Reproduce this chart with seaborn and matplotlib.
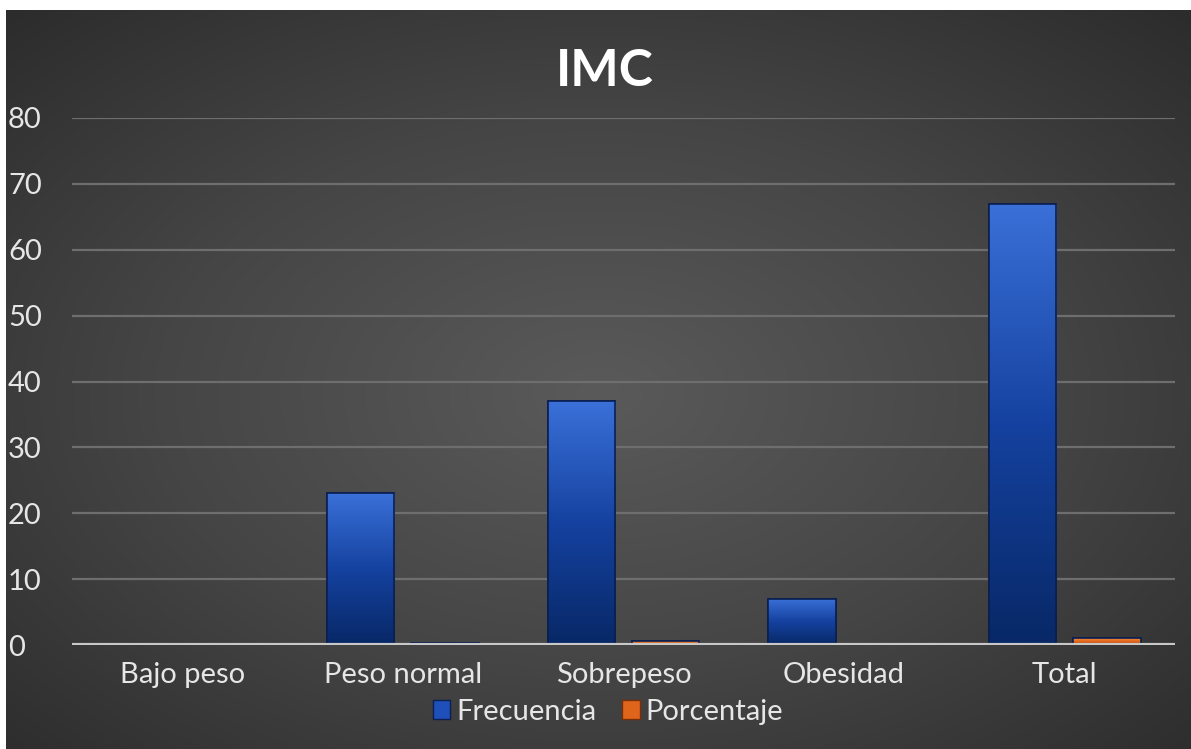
import matplotlib
matplotlib.use('Agg')
import matplotlib.pyplot as plt
import numpy as np
import pandas as pd
import seaborn as sns
from matplotlib.colors import LinearSegmentedColormap
from matplotlib.patches import Patch, Rectangle

categories = ['Bajo peso', 'Peso normal', 'Sobrepeso', 'Obesidad', 'Total']
frecuencia = [0, 23, 37, 7, 67]
porcentaje = [0, 0.34, 0.55, 0.10, 1.0]
series_names = ['Frecuencia', 'Porcentaje']
y_ticks = [0, 10, 20, 30, 40, 50, 60, 70, 80]

BLUE = '#1f4fb8'
ORANGE = '#e0651c'
TEXT = '#e6e6e6'

df = pd.DataFrame({
    'Categoria': categories * 2,
    'Valor': frecuencia + porcentaje,
    'Serie': [series_names[0]] * len(categories) + [series_names[1]] * len(categories),
})

sns.set_style('dark')
plt.rcParams['font.family'] = ['Lato', 'DejaVu Sans']

W, H = 1191, 749
fig = plt.figure(figsize=(W / 100, H / 100), dpi=100, facecolor='white')

# dark radial background panel
bg = fig.add_axes([6 / W, 0, 1 - 6 / W, 1 - 10 / H], zorder=-10)
yy, xx = np.mgrid[0:1:300j, 0:1:480j]
r = np.sqrt(((xx - 0.5) / 0.75) ** 2 + ((yy - 0.52) / 0.75) ** 2)
bg_cmap = LinearSegmentedColormap.from_list('bg', ['#5a5a5a', '#454545', '#2a2a2a'])
bg.imshow(np.clip(r, 0, 1), cmap=bg_cmap, vmin=0, vmax=1, aspect='auto',
          extent=[0, 1, 0, 1], interpolation='bicubic')
bg.set_axis_off()

ax = fig.add_axes([72 / W, 1 - 645 / H, (1175 - 72) / W, (645 - 118) / H])
ax.patch.set_alpha(0)

sns.barplot(data=df, x='Categoria', y='Valor', hue='Serie', order=categories,
            hue_order=series_names, palette=[BLUE, ORANGE], width=0.764, gap=0.2,
            ax=ax, legend=False, edgecolor='#0b1f50', linewidth=1.2)

# vertical gradient on the bars
grads = {
    BLUE: LinearSegmentedColormap.from_list('b', ['#082866', '#1542a0', '#3a70d8']),
    ORANGE: LinearSegmentedColormap.from_list('o', ['#a8400c', '#e0651c', '#f08a3c']),
}
grad_img = np.linspace(0, 1, 256).reshape(-1, 1)
n = len(categories)
for i, bar in enumerate(ax.patches):
    x0, y0 = bar.get_x(), bar.get_y()
    w, h = bar.get_width(), bar.get_height()
    if h <= 0:
        continue
    cmap = grads[BLUE] if i < n else grads[ORANGE]
    im = ax.imshow(grad_img, cmap=cmap, origin='lower', aspect='auto',
                   extent=[x0, x0 + w, y0, y0 + h], zorder=bar.get_zorder() + 0.1)
    im.set_clip_path(bar)
    ax.add_patch(Rectangle((x0, y0), w, h, fill=False, edgecolor='#0b1f50',
                           linewidth=1.2, zorder=bar.get_zorder() + 0.2))

ax.set_xlim(-0.5, 4.5)
ax.set_ylim(0, 80)
ax.set_yticks(y_ticks)
ax.grid(axis='y', color='#6e6e6e', linewidth=1.6)
ax.grid(axis='x', visible=False)
ax.set_axisbelow(True)
ax.axhline(0, color='#c8c8c8', linewidth=3, zorder=5)
for s in ax.spines.values():
    s.set_visible(False)
ax.set_xlabel('')
ax.set_ylabel('')
ax.tick_params(axis='both', length=0, labelsize=21, colors=TEXT)
ax.tick_params(axis='x', pad=12)
for lab in ax.get_yticklabels():
    lab.set_horizontalalignment('left')
ax.tick_params(axis='y', pad=46)

fig.text(605 / W, 1 - 72 / H, 'IMC', ha='center', va='center', fontsize=37,
         fontweight='bold', color='white')

handles = [Patch(facecolor=BLUE, edgecolor='#0b1f50'),
           Patch(facecolor=ORANGE, edgecolor='#7a2e08')]
fig.legend(handles, series_names, loc='center', bbox_to_anchor=(608 / W, 1 - 712 / H),
           ncol=2, frameon=False, fontsize=21, labelcolor=TEXT, handlelength=0.6,
           handleheight=0.6, handletextpad=0.2, columnspacing=0.9)

fig.savefig('out.png', dpi=100)
